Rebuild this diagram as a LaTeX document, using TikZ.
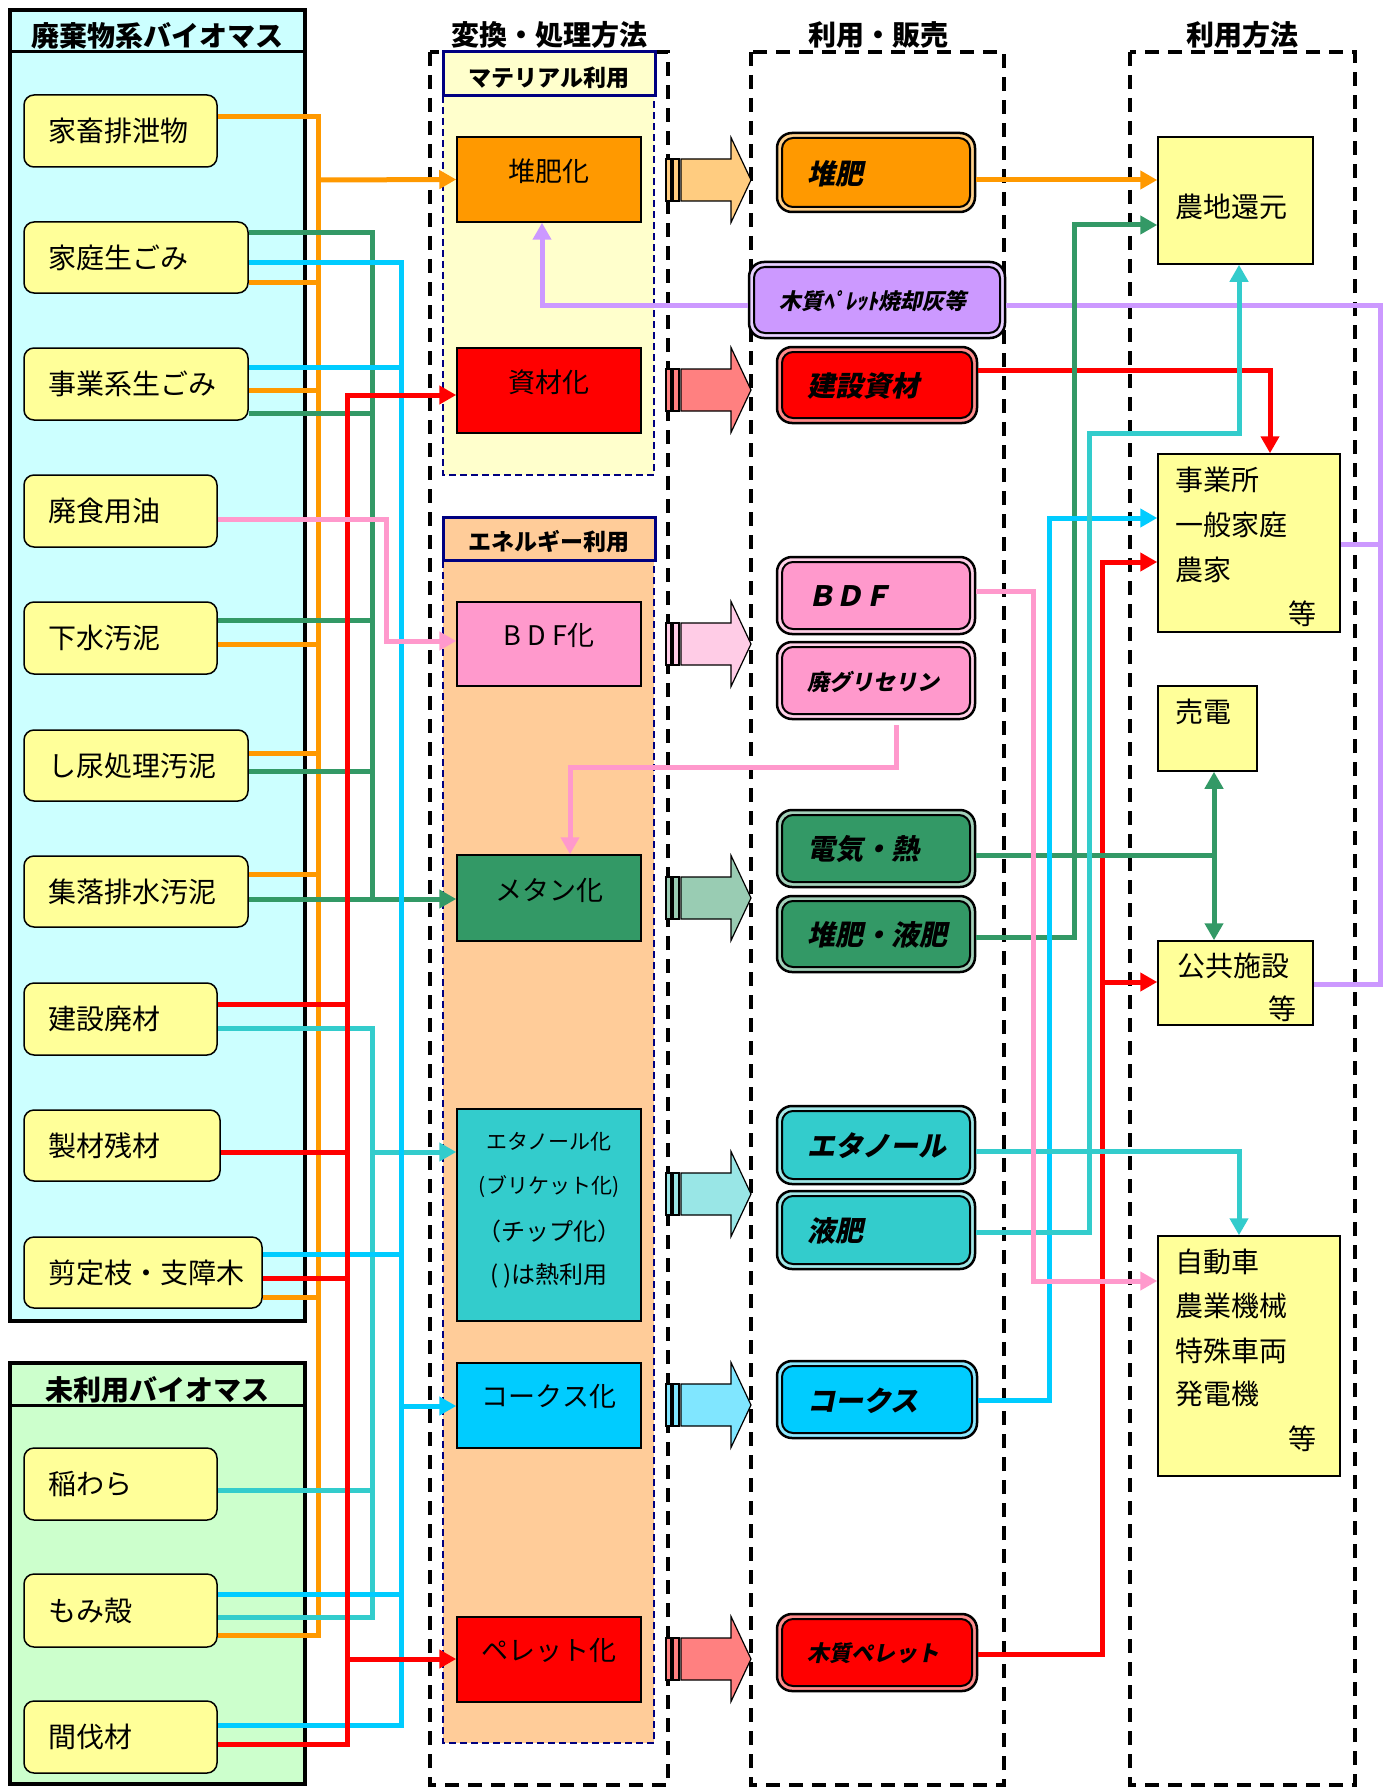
\documentclass[tikz,border=0pt]{standalone}
\usepackage{fontspec}
\setmainfont{Noto Sans CJK JP}
\newfontfamily\jpsl{Noto Sans CJK JP}[FakeSlant=0.2]
\usetikzlibrary{arrows.meta}
\definecolor{cOr}{HTML}{FF9900}
\definecolor{cGr}{HTML}{339966}
\definecolor{cSky}{HTML}{00CCFF}
\definecolor{cTeal}{HTML}{33CCCC}
\definecolor{cRed}{HTML}{FF0000}
\definecolor{cPink}{HTML}{FF99CC}
\definecolor{cPur}{HTML}{CC99FF}
\definecolor{cYel}{HTML}{FFFF99}
\definecolor{cCyanBg}{HTML}{CCFFFF}
\definecolor{cGreenBg}{HTML}{CCFFCC}
\definecolor{cMat}{HTML}{FFFFCC}
\definecolor{cEne}{HTML}{FFCC99}
\definecolor{cNavy}{HTML}{000080}
\definecolor{aOr}{HTML}{FFCC80}
\definecolor{aRed}{HTML}{FF8080}
\definecolor{aPink}{HTML}{FFCCE6}
\definecolor{aGr}{HTML}{99CCB3}
\definecolor{aTeal}{HTML}{99E6E6}
\definecolor{aSky}{HTML}{80E6FF}
\newcommand\prodL{\jpsl\bfseries\fontsize{28}{30}\selectfont}
\newcommand\prodS{\jpsl\bfseries\fontsize{22}{24}\selectfont}
\tikzset{
  srcbox/.style={draw=black, line width=1.5pt, fill=cYel, rounded corners=10pt, inner sep=0pt},
  srctxt/.style={font=\fontsize{28}{30}\selectfont, inner sep=0pt},
  procbox/.style={draw=black, line width=1.5pt, inner sep=0pt},
  proctxt/.style={font=\fontsize{27}{29}\selectfont, inner sep=0pt},
  proctxts/.style={font=\fontsize{21}{23}\selectfont, inner sep=0pt},
  proctxtf/.style={font=\fontsize{24}{26}\selectfont, inner sep=0pt},
  proctxtm/.style={font=\fontsize{24}{26}\selectfont, inner sep=0pt},
  prodout/.style={draw=black, line width=2.5pt, rounded corners=15pt, inner sep=0pt},
  prodin/.style={draw=black, line width=2pt, rounded corners=11pt, inner sep=0pt},
  prodtxt/.style={inner sep=0pt, anchor=west},
  usebx/.style={draw=black, line width=1.5pt, fill=cYel, inner sep=0pt},
  usetxt/.style={font=\fontsize{28}{30}\selectfont, inner sep=0pt, anchor=west},
  usetxtc/.style={font=\fontsize{28}{30}\selectfont, inner sep=0pt},
  ttl/.style={font=\bfseries\fontsize{28}{30}\selectfont, inner sep=0pt},
  hdr/.style={font=\bfseries\fontsize{23}{25}\selectfont, inner sep=0pt},
  hdrbox/.style={draw=cNavy, line width=3pt, inner sep=0pt},
  outerbx/.style={draw=black, line width=3.5pt, inner sep=0pt},
  conn/.style={line width=5pt},
  arr/.style={-{Triangle[length=17pt,width=18pt]}},
  coldash/.style={draw=black, line width=3.5pt, dash pattern=on 14pt off 9pt},
  regdash/.style={draw=cNavy, line width=1.5pt, dash pattern=on 7pt off 4pt},
  barr/.style={draw=black, line width=1.2pt},
}
% source item: name x1 y1 x2 y2 text
\newcommand\srcitem[6]{%
  \pgfmathsetmacro\myX{(#2+#4)/2}%
  \pgfmathsetmacro\myY{(#3+#5)/2}%
  \pgfmathsetmacro\myW{#4-#2}%
  \pgfmathsetmacro\myH{#5-#3}%
  \node[srcbox, minimum width=\myW pt, minimum height=\myH pt] (#1) at (\myX,\myY) {};%
  \node[srctxt, anchor=west] (#1t) at (#2+24,\myY) {#6};%
}
% process box: name x1 y1 x2 y2 fill
\newcommand\procitem[6]{%
  \pgfmathsetmacro\myX{(#2+#4)/2}%
  \pgfmathsetmacro\myY{(#3+#5)/2}%
  \pgfmathsetmacro\myW{#4-#2}%
  \pgfmathsetmacro\myH{#5-#3}%
  \node[procbox, fill=#6, minimum width=\myW pt, minimum height=\myH pt] (#1) at (\myX,\myY) {};%
}
% product box: name x1 y1 x2 y2 colour text
\newcommand\proditem[7]{%
  \pgfmathsetmacro\myX{(#2+#4)/2}%
  \pgfmathsetmacro\myY{(#3+#5)/2}%
  \pgfmathsetmacro\myW{#4-#2}%
  \pgfmathsetmacro\myH{#5-#3}%
  \pgfmathsetmacro\myWi{#4-#2-10}%
  \pgfmathsetmacro\myHi{#5-#3-10}%
  \node[prodout, fill=#6!45!white, minimum width=\myW pt, minimum height=\myH pt] (#1) at (\myX,\myY) {};%
  \node[prodin, fill=#6, minimum width=\myWi pt, minimum height=\myHi pt] (#1in) at (\myX,\myY) {};%
  \node[prodtxt] (#1t) at (#2+30,\myY+1) {#7};%
}
% block arrow: name ymid colour
\newcommand\blockarr[3]{%
  \begin{scope}[shift={(0,#2)}]
    \filldraw[barr, fill=#3] (666,-21) rectangle (671,21);
    \filldraw[barr, fill=#3] (673,-21) rectangle (679,21);
    \filldraw[barr, fill=#3] (681,-21) -- (731,-21) -- (731,-42.5) -- (751,0) -- (731,42.5) -- (731,21) -- (681,21) -- cycle;
    \coordinate (#1) at (751,0);
  \end{scope}%
}
\begin{document}
\begin{tikzpicture}[x=1pt, y=-1pt, line join=miter]
\useasboundingbox (0,0) rectangle (1390,1787);
\fill[white] (0,0) rectangle (1390,1787);

% ---------- left source panels ----------
\node[outerbx, fill=cCyanBg, minimum width=295pt, minimum height=1311pt] (waste) at (157.5,665.5) {};
\draw[line width=3pt] (10,52) -- (305,52);
\node[ttl] (wasteT) at (157,36) {廃棄物系バイオマス};
\node[outerbx, fill=cGreenBg, minimum width=295pt, minimum height=421pt] (unused) at (157.5,1573.5) {};
\draw[line width=3pt] (10,1405) -- (305,1405);
\node[ttl] (unusedT) at (157,1390) {未利用バイオマス};

\srcitem{kachiku}{24}{95}{217}{167}{家畜排泄物}
\srcitem{katei}{24}{222}{248}{293}{家庭生ごみ}
\srcitem{jigyo}{24}{348}{248}{420}{事業系生ごみ}
\srcitem{haishoku}{24}{475}{217}{547}{廃食用油}
\srcitem{gesui}{24}{602}{217}{674}{下水汚泥}
\srcitem{shinyo}{24}{730}{248}{801}{し尿処理汚泥}
\srcitem{shuraku}{24}{856}{248}{927}{集落排水汚泥}
\srcitem{kensetsu}{24}{983}{217}{1055}{建設廃材}
\srcitem{seizai}{24}{1110}{220}{1181}{製材残材}
\srcitem{sentei}{24}{1237}{262}{1308}{剪定枝・支障木}
\srcitem{inawara}{24}{1448}{217}{1520}{稲わら}
\srcitem{momigara}{24}{1574}{217}{1647}{もみ殻}
\srcitem{kanbatsu}{24}{1701}{217}{1773}{間伐材}

% ---------- column frames and titles ----------
\draw[coldash] (430,52) rectangle (668,1785);
\draw[coldash] (751,52) rectangle (1004,1785);
\draw[coldash] (1130,52) rectangle (1355,1785);
\node[ttl] (colA) at (549,35) {変換・処理方法};
\node[ttl] (colB) at (878,35) {利用・販売};
\node[ttl] (colC) at (1242,35) {利用方法};

% ---------- regions ----------
\draw[regdash, fill=cMat] (443,52) rectangle (654,475);
\draw[regdash, fill=cEne] (443,517) rectangle (654,1743);
\node[hdrbox, fill=cMat, minimum width=212pt, minimum height=44pt] (matH) at (549,74) {};
\node[hdr] (matHt) at (549,78) {マテリアル利用};
\node[hdrbox, fill=cEne, minimum width=212pt, minimum height=43pt] (eneH) at (549,538.5) {};
\node[hdr] (eneHt) at (549,542) {エネルギー利用};

% ---------- process boxes ----------
\procitem{taihika}{457}{137}{641}{222}{cOr}
\procitem{shizaika}{457}{348}{641}{433}{cRed}
\procitem{bdfka}{457}{602}{641}{686}{cPink}
\procitem{metanka}{457}{855}{641}{941}{cGr}
\procitem{etanolka}{457}{1109}{641}{1321}{cTeal}
\procitem{cokeska}{457}{1363}{641}{1448}{cSky}
\procitem{pelletka}{457}{1617}{641}{1702}{cRed}
\node[proctxt] (taihikat) at (549,171) {堆肥化};
\node[proctxt] (shizaikat) at (549,382) {資材化};
\node[proctxt] (bdfkat) at (549,635) {B D F化};
\node[proctxt] (metankat) at (549,890) {メタン化};
\node[proctxts] (etanolkat1) at (549,1142) {エタノール化};
\node[proctxts] (etanolkat2) at (549,1187) {(ブリケット化)};
\node[proctxtf] (etanolkat3) at (549,1231) {（チップ化）};
\node[proctxtm] (etanolkat4) at (549,1276) {( )は熱利用};
\node[proctxt] (cokeskat) at (549,1396) {コークス化};
\node[proctxt] (pelletkat) at (549,1650) {ペレット化};

% ---------- block arrows ----------
\blockarr{ba1}{180}{aOr}
\blockarr{ba2}{390}{aRed}
\blockarr{ba3}{644}{aPink}
\blockarr{ba4}{898}{aGr}
\blockarr{ba5}{1194}{aTeal}
\blockarr{ba6}{1405}{aSky}
\blockarr{ba7}{1659}{aRed}

% ---------- product boxes ----------
\proditem{qtaihi}{777}{133}{975}{212}{cOr}{\prodL 堆肥}
\proditem{qash}{749}{262}{1005}{338}{cPur}{\prodS 木質ﾍﾟﾚｯﾄ焼却灰等}
\proditem{qkensetsu}{777}{347}{977}{423}{cRed}{\prodL 建設資材}
\proditem{qbdf}{777}{557}{975}{634}{cPink}{\prodL ＢＤＦ}
\proditem{qglyc}{777}{642}{975}{719}{cPink}{\prodS 廃グリセリン}
\proditem{qelec}{777}{810}{975}{887}{cGr}{\prodL 電気・熱}
\proditem{qtaihieki}{777}{896}{975}{972}{cGr}{\prodL 堆肥・液肥}
\proditem{qetanol}{777}{1106}{975}{1184}{cTeal}{\prodL エタノール}
\proditem{qekihi}{777}{1191}{975}{1269}{cTeal}{\prodL 液肥}
\proditem{qcoke}{777}{1361}{977}{1438}{cSky}{\prodL コークス}
\proditem{qpellet}{777}{1614}{977}{1691}{cRed}{\prodS 木質ペレット}

% ---------- use boxes ----------
\node[usebx, minimum width=155pt, minimum height=127pt] (unochi) at (1235.5,200.5) {};
\node[usetxt] (unochit) at (1175,207) {農地還元};
\node[usebx, minimum width=182pt, minimum height=178pt] (ujigyo) at (1249,543) {};
\node[usetxt] (ujigyot1) at (1175,480) {事業所};
\node[usetxt] (ujigyot2) at (1175,525) {一般家庭};
\node[usetxt] (ujigyot3) at (1175,570) {農家};
\node[usetxtc] (ujigyot4) at (1302,614) {等};
\node[usebx, minimum width=99pt, minimum height=85pt] (ubaiden) at (1207.5,728.5) {};
\node[usetxt] (ubaident) at (1175,712) {売電};
\node[usebx, minimum width=155pt, minimum height=84pt] (ukokyo) at (1235.5,983) {};
\node[usetxt] (ukokyot1) at (1177,966) {公共施設};
\node[usetxtc] (ukokyot2) at (1282,1009) {等};
\node[usebx, minimum width=182pt, minimum height=240pt] (ujidosha) at (1249,1356) {};
\node[usetxt] (ujidoshat1) at (1175,1262) {自動車};
\node[usetxt] (ujidoshat2) at (1175,1306) {農業機械};
\node[usetxt] (ujidoshat3) at (1175,1351) {特殊車両};
\node[usetxt] (ujidoshat4) at (1175,1394) {発電機};
\node[usetxtc] (ujidoshat5) at (1302,1439) {等};

% ---------- left connectors ----------
% orange
\draw[conn,cOr] (kachiku.east |- 0,117) -| (318,1635) -- (momigara.east |- 0,1635);
\foreach \nm/\yy in {katei/282, jigyo/390, gesui/644, shinyo/753, shuraku/874, sentei/1297}
  \draw[conn,cOr] (\nm.east |- 0,\yy) -- (318,\yy);
\draw[conn,cOr,arr] (318,180) -- (taihika.west);
% green
\draw[conn,cGr] (katei.east |- 0,233) -| (372,899);
\foreach \nm/\yy in {jigyo/413, gesui/620, shinyo/771}
  \draw[conn,cGr] (\nm.east |- 0,\yy) -- (372,\yy);
\draw[conn,cGr,arr] (shuraku.east |- 0,899) -- (metanka.west |- 0,899);
% teal
\draw[conn,cTeal] (kensetsu.east |- 0,1028) -| (372,1617) -- (momigara.east |- 0,1617);
\draw[conn,cTeal] (inawara.east |- 0,1490) -- (372,1490);
\draw[conn,cTeal,arr] (372,1152) -- (etanolka.west |- 0,1152);
% sky
\draw[conn,cSky] (katei.east |- 0,263) -| (401,1725) -- (kanbatsu.east |- 0,1725);
\foreach \nm/\yy in {jigyo/367, sentei/1254, momigara/1594}
  \draw[conn,cSky] (\nm.east |- 0,\yy) -- (401,\yy);
\draw[conn,cSky,arr] (401,1406) -- (cokeska.west |- 0,1406);
% red
\draw[conn,cRed,arr] (kanbatsu.east |- 0,1744) -| (347,395) -- (shizaika.west |- 0,395);
\foreach \nm/\yy in {kensetsu/1004, seizai/1152, sentei/1278}
  \draw[conn,cRed] (\nm.east |- 0,\yy) -- (347,\yy);
\draw[conn,cRed,arr] (347,1659) -- (pelletka.west |- 0,1659);
% pink
\draw[conn,cPink,arr] (haishoku.east |- 0,519) -| (386,641) -- (bdfka.west |- 0,641);

% ---------- right connectors ----------
\draw[conn,cOr,arr] (qtaihi.east |- 0,180) -- (unochi.west |- 0,180);
\draw[conn,cPur,arr] (qash.west |- 0,305) -| (taihika.south -| 542,0);
\draw[conn,cPur] (qash.east |- 0,305) -| (1380,984) -- (ukokyo.east |- 0,984);
\draw[conn,cPur] (ujigyo.east |- 0,544) -- (1380,544);
\draw[conn,cRed,arr] (qkensetsu.east |- 0,370) -| (ujigyo.north -| 1270,0);
\draw[conn,cRed,arr] (qpellet.east |- 0,1654) -| (1102,562) -- (ujigyo.west |- 0,562);
\draw[conn,cRed,arr] (1102,982) -- (ukokyo.west |- 0,982);
\draw[conn,cGr] (qelec.east |- 0,855) -- (1214,855);
\draw[conn,cGr,arr] (1214,855) -- (ubaiden.south -| 1214,0);
\draw[conn,cGr,arr] (1214,855) -- (ukokyo.north -| 1214,0);
\draw[conn,cGr,arr] (qtaihieki.east |- 0,937) -| (1074,225) -- (unochi.west |- 0,225);
\draw[conn,cSky,arr] (qcoke.east |- 0,1400) -| (1049,518) -- (ujigyo.west |- 0,518);
\draw[conn,cTeal,arr] (qetanol.east |- 0,1151) -| (ujidosha.north -| 1239,0);
\draw[conn,cTeal,arr] (qekihi.east |- 0,1232) -| (1089,433) -| (unochi.south -| 1239,0);
\draw[conn,cPink,arr] (qbdf.east |- 0,591) -| (1033,1281) -- (ujidosha.west |- 0,1281);
\draw[conn,cPink,arr] (896,725) |- (570,767) -- (metanka.north -| 570,0);
\end{tikzpicture}
\end{document}
